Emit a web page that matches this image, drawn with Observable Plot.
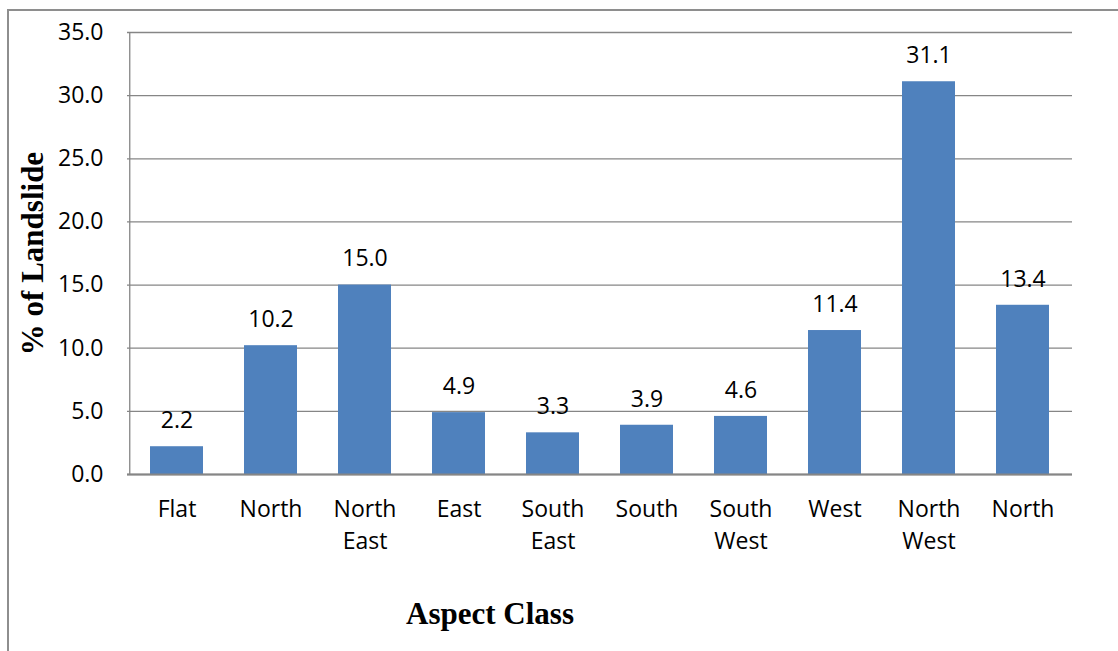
<!DOCTYPE html>
<html>
<head>
<meta charset="utf-8">
<script src="https://cdn.jsdelivr.net/npm/d3@7"></script>
<script src="https://cdn.jsdelivr.net/npm/@observablehq/plot@0.6"></script>
<style>
  html, body { margin: 0; padding: 0; background: #fff; overflow: hidden; }
  #wrap { position: relative; width: 1118px; height: 651px; overflow: hidden; }
  #frame { position: absolute; left: 7px; top: 9px; width: 1200px; height: 800px; border: 2px solid #8e8e8e; box-sizing: border-box; }
  #chart { position: absolute; left: 0; top: 0; }
</style>
</head>
<body>
<div id="wrap">
  <div id="frame"></div>
  <div id="chart"></div>
</div>
<script>
const categories = ["Flat", "North", "North\nEast", "East", "South\nEast", "South", "South\nWest", "West", "North\nWest", "North"];
const values = [2.2, 10.2, 15.0, 4.9, 3.3, 3.9, 4.6, 11.4, 31.1, 13.4];
const yTicks = [0, 5, 10, 15, 20, 25, 30, 35];
const yLabel = "% of Landslide";
const xLabel = "Aspect Class";

const data = categories.map((c, i) => ({i, c, v: values[i]}));
const idx = d3.range(categories.length);

const gridColor = "#868686";
const W = 1118, ML = 127, MR = 46;
const step = (W - ML - MR) / categories.length;

const plot = Plot.plot({
  width: W,
  height: 651,
  marginLeft: ML,
  marginRight: MR,
  marginTop: 32,
  marginBottom: 177,
  style: {fontFamily: "'Open Sans', sans-serif", fontSize: "23px", color: "#000", background: "transparent"},
  x: {domain: idx, paddingInner: 0.435, paddingOuter: 0.2175, label: null},
  y: {domain: [0, 35], label: null},
  marks: [
    Plot.ruleY(yTicks, {stroke: gridColor, strokeWidth: 1.3}),
    Plot.ruleX([0], {dx: -step / 2, stroke: gridColor, strokeWidth: 1.3}),
    Plot.barY(data, {x: "i", y: "v", fill: "#4f81bd"}),
    Plot.ruleY([0], {stroke: gridColor, strokeWidth: 2}),
    Plot.text(data, {x: "i", y: "v", text: d => d.v.toFixed(1), dy: -26, fill: "#000", fontSize: 23}),
    Plot.axisY({ticks: yTicks, tickSize: 0, tickPadding: 24, tickFormat: d3.format(".1f"), fontSize: 23, label: null}),
    Plot.axisX({tickSize: 0, tickPadding: 20, tickFormat: i => categories[i], lineHeight: 1.39, fontSize: 23, label: null}),
    Plot.text([yLabel], {text: d => d, frameAnchor: "left", textAnchor: "middle", rotate: -90, dx: -94, fontFamily: "'Liberation Serif', 'Times New Roman', serif", fontWeight: "bold", fontSize: 31, fill: "#000"}),
    Plot.text([xLabel], {text: d => d, frameAnchor: "bottom", dx: -110, dy: 149, fontFamily: "'Liberation Serif', 'Times New Roman', serif", fontWeight: "bold", fontSize: 31, fill: "#000"})
  ]
});
document.getElementById("chart").appendChild(plot);
</script>
</body>
</html>
